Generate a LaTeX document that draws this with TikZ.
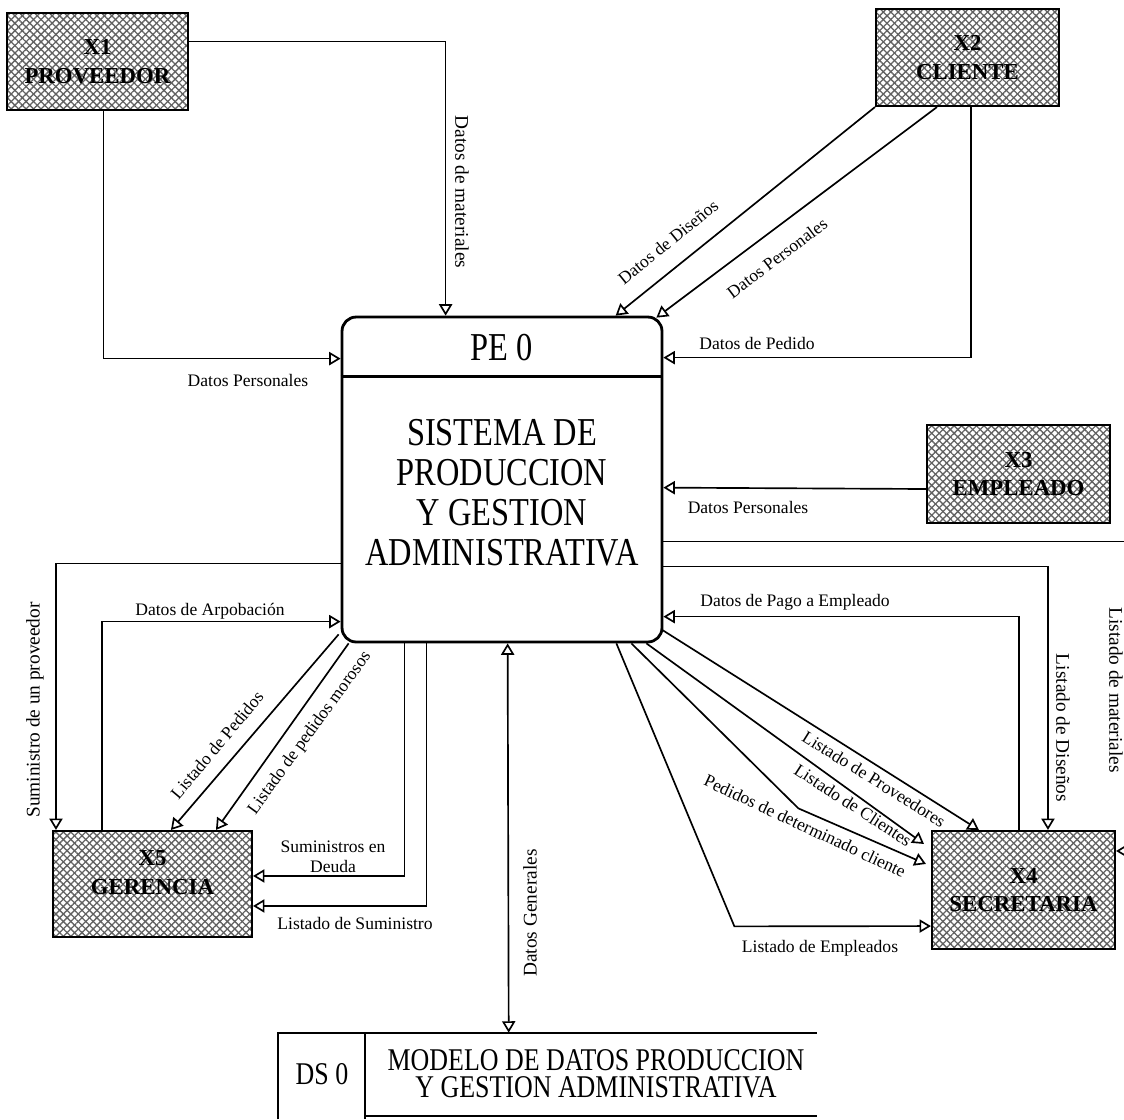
\documentclass[tikz,border=0pt]{standalone}
\usepackage{fontspec}
\setmainfont{Liberation Serif}
\newfontfamily\narrowrm[FakeStretch=0.82]{Liberation Serif}
\usetikzlibrary{arrows.meta,calc,patterns.meta}
\tikzset{
  entity/.style={draw, line width=1.2pt, minimum width=3.66cm, minimum height=1.94cm,
    inner sep=0pt, align=center, font=\bfseries\fontsize{13}{16.4}\selectfont,
    preaction={pattern={Lines[angle=45,distance=3pt,line width=.75pt]}, pattern color=black!62},
    pattern={Lines[angle=-45,distance=3pt,line width=.75pt]}, pattern color=black!62},
  pebox/.style={draw, line width=1.6pt, rounded corners=8pt, minimum width=6.4cm,
    minimum height=6.5cm, inner sep=0pt},
  bigtxt/.style={inner sep=0pt, align=center, font=\narrowrm\fontsize{22.5}{22.7}\selectfont},
  dstxt/.style={inner sep=0pt, align=center, font=\narrowrm\fontsize{18}{15.3}\selectfont},
  flow/.style={line width=.95pt, -{Triangle[open,length=6.5pt,width=7.5pt]}},
  flowboth/.style={line width=.95pt, {Triangle[open,length=6.5pt,width=7.5pt]}-{Triangle[open,length=6.5pt,width=7.5pt]}},
  lbl/.style={inner sep=0pt, font=\fontsize{10}{11.5}\selectfont},
  vlbl/.style={inner sep=0pt, font=\fontsize{11}{12}\selectfont},
}

\begin{document}
\begin{tikzpicture}[x=0.02cm, y=-0.02cm]
  \useasboundingbox (0,0) rectangle (1124,1119);
  % proceso
  \node[pebox] (pe) at (502,479.5) {};
  \draw[line width=1.3pt] ($(pe.north west)+(0,61)$) -- ($(pe.north east)+(0,61)$);
  \node[bigtxt] (pehead) at (502,348) {PE 0};
  \node[bigtxt] (petitle) at (502,493) {SISTEMA DE\\PRODUCCION\\Y GESTION\\ADMINISTRATIVA};
  % entidades externas
  \node[entity, minimum width=3.62cm] (x1) at (97.5,61.5) {X1\\PROVEEDOR};
  \node[entity] (x2) at (967.5,57.5) {X2\\CLIENTE};
  \node[entity, minimum height=1.96cm] (x3) at (1018.5,474) {X3\\EMPLEADO};
  \node[entity, minimum height=2.36cm] (x4) at (1023.5,890) {X4\\SECRETARIA};
  \node[entity, minimum width=3.98cm, minimum height=2.12cm] (x5) at (152.5,884) {X5\\GERENCIA\\[-3pt]\mbox{}};
  % almacen
  \node[minimum width=10.78cm, minimum height=1.72cm, inner sep=0pt] (ds) at (547.5,1076) {};
  \draw[line width=1.2pt] (ds.south west) -- (ds.north west) -- (ds.north east);
  \draw[line width=1.2pt] ($(ds.north west)+(87,0)$) -- ($(ds.south west)+(87,0)$);
  \draw[line width=1.2pt] ($(ds.south west)+(87,-3)$) -- ($(ds.south east)+(0,-3)$);
  \node[dstxt] (dsid) at (322,1074) {DS 0};
  \node[dstxt] (dsname) at (596,1074) {MODELO DE DATOS PRODUCCION\\Y GESTION ADMINISTRATIVA};

  \draw[flow] ($(x1.north east)+(0,29)$) -| ($(pe.north west)+(105,0)$);
  \draw[flow] ($(x1.south west)+(97,0)$) |- ($(pe.north west)+(0,43)$);
  \draw[flow] (x2.south west) -- ($(pe.north west)+(275,0)$);
  \draw[flow] ($(x2.south west)+(62,0)$) -- ($(pe.north east)+(-7,2)$);
  \draw[flow] ($(x2.south west)+(96,0)$) |- ($(pe.north east)+(0,42)$);
  \draw[flow] ($(x3.west)+(0,15)$) -- ($(pe.north east)+(0,172)$);
  \draw[flow] ($(pe.north east)+(0,226)$) -| ($(x4.north east)+(22,21)$) -- ($(x4.north east)+(0,21)$);
  \draw[flow] ($(pe.north east)+(0,251)$) -| ($(x4.north west)+(117,0)$);
  \draw[flow] ($(x4.north west)+(88,0)$) |- ($(pe.north east)+(0,301)$);
  \draw[flow] ($(pe.south east)+(-2,-14)$) -- ($(x4.north west)+(48,0)$);
  \draw[flow] ($(pe.south east)+(-17,0)$) -- ($(x4.north west)+(-7,14)$);
  \draw[flow] ($(pe.south east)+(-32,0)$) -- ($(pe.south east)+(135,165)$) -- ($(x4.north west)+(-5,34)$);
  \draw[flow] ($(pe.south east)+(-47,0)$) -- ($(pe.south east)+(71,283)$) -- ($(x4.south west)+(0,-24)$);
  \draw[flow] ($(pe.north west)+(0,248)$) -| ($(x5.north west)+(4,0)$);
  \draw[flow] ($(x5.north west)+(50,0)$) |- ($(pe.north west)+(0,306)$);
  \draw[flow] ($(pe.south west)+(-2,-9)$) -- ($(x5.north west)+(119,0)$);
  \draw[flow] ($(pe.south west)+(8,0)$) -- ($(x5.north west)+(164,0)$);
  \draw[flow] ($(pe.south west)+(64,0)$) |- ($(x5.north east)+(0,46)$);
  \draw[flow] ($(pe.south west)+(86,0)$) |- ($(x5.north east)+(0,76)$);
  \draw[flowboth] ($(pe.south west)+(167,0)$) -- ($(ds.north west)+(231,0)$);

  \node[vlbl, rotate=-90] (lmat) at (462,192) {Datos de materiales};
  \node[lbl] (lperx1) at (248,380) {Datos Personales};
  \node[lbl, rotate=39] (ldis) at (668,242) {Datos de Diseños};
  \node[lbl, rotate=37] (lperx2) at (777,258) {Datos Personales};
  \node[lbl] (lped) at (757,343) {Datos de Pedido};
  \node[lbl] (lperx3) at (748,507) {Datos Personales};
  \node[vlbl, rotate=-90] (lmatx4) at (1116,690) {Listado de materiales};
  \node[vlbl, rotate=-90] (ldisx4) at (1063,728) {Listado de Diseños};
  \node[lbl] (lpago) at (795,602) {Datos de Pago a Empleado};
  \node[lbl, rotate=-32] (lprov) at (874,779) {Listado de Proveedores};
  \node[lbl, rotate=-33] (lcli) at (853,805) {Listado de Clientes};
  \node[lbl, rotate=-25] (lpedcli) at (805,826) {Pedidos de determinado cliente};
  \node[lbl] (lemp) at (820,948) {Listado de Empleados};
  \node[vlbl, rotate=90] (lsum) at (35,710) {Suministro de un proveedor};
  \node[lbl] (lapr) at (210,611) {Datos de Arpobación};
  \node[lbl, rotate=50] (llped) at (217,745) {Listado de Pedidos};
  \node[lbl, rotate=54] (lmor) at (310,733) {Listado de pedidos morosos};
  \node[lbl, align=center] (ldeu) at (333,857) {Suministros en\\Deuda};
  \node[lbl] (llsum) at (355,923) {Listado de Suministro};
  \node[vlbl, rotate=90] (lgen) at (530,913) {Datos Generales};
\end{tikzpicture}
\end{document}
